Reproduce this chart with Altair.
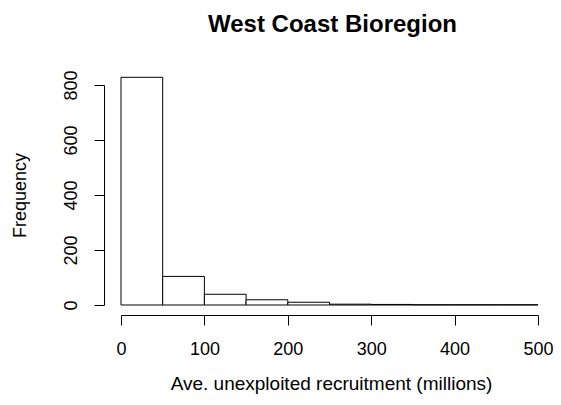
import altair as alt
import pandas as pd

# Histogram bins (width 50) and counts
bin_start = [0, 50, 100, 150, 200, 250, 300, 350, 400, 450]
bin_end = [50, 100, 150, 200, 250, 300, 350, 400, 450, 500]
counts = [828, 104, 39, 19, 10, 3, 2, 1, 1, 1]

x_ticks = [0, 100, 200, 300, 400, 500]
y_ticks = [0, 200, 400, 600, 800]

title_text = "West Coast Bioregion"
x_title = "Ave. unexploited recruitment (millions)"
y_title = "Frequency"

df = pd.DataFrame({"start": bin_start, "end": bin_end, "count": counts})

FONT = "Liberation Sans"

chart = (
    alt.Chart(df)
    .mark_rect(fill="white", stroke="black", strokeWidth=1, clip=False)
    .encode(
        x=alt.X(
            "start:Q",
            scale=alt.Scale(domain=[0, 500], nice=False, zero=False),
            axis=alt.Axis(
                values=x_ticks,
                title=x_title,
                offset=10,
                tickSize=10,
                labelPadding=15,
                titlePadding=16,
                titleX=210,
                grid=False,
                labelFlush=False,
                labelFontSize=18,
                titleFontSize=19,
                titleFontWeight="normal",
                labelFont=FONT,
                titleFont=FONT,
                labelColor="black",
                titleColor="black",
                domainColor="black",
                tickColor="black",
            ),
        ),
        x2="end:Q",
        y=alt.Y(
            "count:Q",
            scale=alt.Scale(domain=[0, 800], nice=False),
            axis=alt.Axis(
                values=y_ticks,
                title=y_title,
                offset=17,
                tickSize=10,
                labelAngle=270,
                labelAlign="center",
                labelBaseline="bottom",
                labelPadding=14,
                titlePadding=33,
                grid=False,
                labelFlush=False,
                labelFontSize=18,
                titleFontSize=18,
                titleFontWeight="normal",
                labelFont=FONT,
                titleFont=FONT,
                labelColor="black",
                titleColor="black",
                domainColor="black",
                tickColor="black",
            ),
        ),
        y2=alt.datum(0),
    )
    .properties(
        width=417,
        height=220,
        title=alt.TitleParams(
            title_text,
            font=FONT,
            fontSize=24,
            fontWeight="bold",
            color="black",
            anchor="middle",
            offset=33,
            dx=3,
        ),
        autosize=alt.AutoSizeParams(type="none"),
        padding={"left": 113, "top": 77, "right": 15, "bottom": 90},
    )
    .configure_view(stroke=None)
)

chart.save("out.html", embed_options={"renderer": "svg", "actions": False})
